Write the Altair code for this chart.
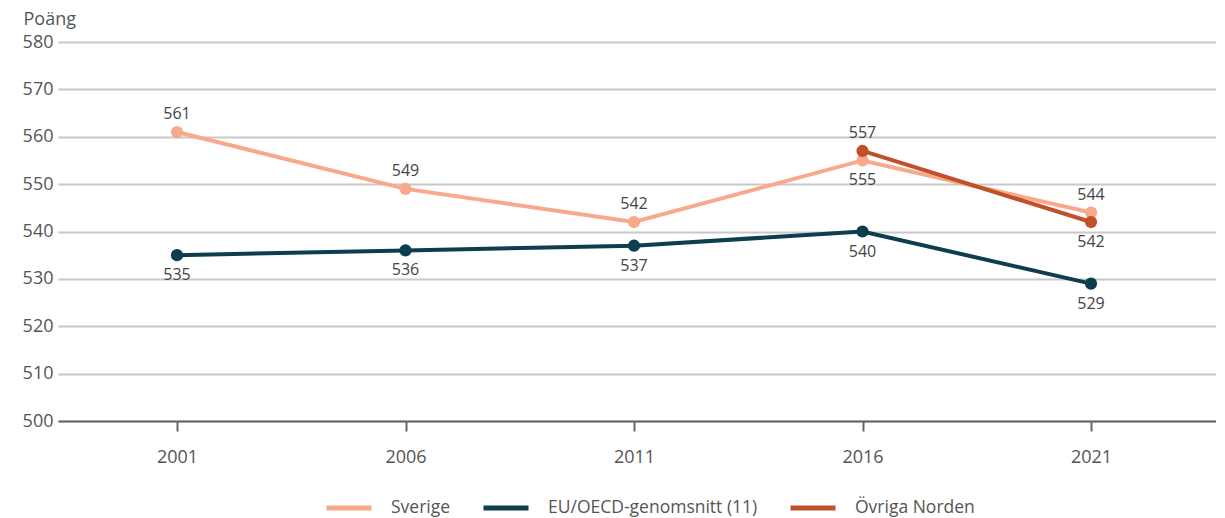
import altair as alt
import pandas as pd

years = [2001, 2006, 2011, 2016, 2021]
sverige = [561, 549, 542, 555, 544]
eu_oecd = [535, 536, 537, 540, 529]
norden_years = [2016, 2021]
norden = [557, 542]
series_names = ["Sverige", "EU/OECD-genomsnitt (11)", "Övriga Norden"]
series_colors = ["#F9A98B", "#0E3D4E", "#C0502A"]
y_ticks = [500, 510, 520, 530, 540, 550, 560, 570, 580]

rows = []
for y, v in zip(years, sverige):
    rows.append({"year": y, "value": v, "series": series_names[0], "o": 0})
for y, v in zip(years, eu_oecd):
    rows.append({"year": y, "value": v, "series": series_names[1], "o": 1})
for y, v in zip(norden_years, norden):
    rows.append({"year": y, "value": v, "series": series_names[2], "o": 2})
df = pd.DataFrame(rows)

FONT = "Open Sans"

x = alt.X("year:Q",
          scale=alt.Scale(domain=[1998.396, 2023.735], nice=False, zero=False),
          axis=alt.Axis(values=years, format="d", title=None, grid=False,
                        domain=True, domainColor="#666666", domainWidth=2,
                        ticks=True, tickColor="#666666", tickWidth=2, tickSize=10,
                        labelPadding=17, labelFontSize=18, labelColor="#555555",
                        labelFont=FONT))
y = alt.Y("value:Q",
          scale=alt.Scale(domain=[500, 580], nice=False, zero=False),
          axis=alt.Axis(values=y_ticks, title="Poäng", titleAngle=0,
                        titleX=-35, titleY=-18, titleAlign="left",
                        titleBaseline="alphabetic", titleFontWeight="normal",
                        titleFontSize=18, titleColor="#555555", titleFont=FONT,
                        grid=True, gridColor="#c8c8c8", gridWidth=2,
                        domain=False, ticks=False, labelPadding=5,
                        labelFontSize=18, labelColor="#555555", labelFont=FONT))
color = alt.Color("series:N",
                  scale=alt.Scale(domain=series_names, range=series_colors),
                  legend=alt.Legend(title=None, orient="none", direction="horizontal",
                                    legendX=266, legendY=441,
                                    symbolType="stroke", symbolSize=2025,
                                    symbolStrokeWidth=5, labelOffset=17,
                                    columnPadding=22, labelFontSize=17.5,
                                    labelLimit=0,
                                    labelColor="#555555", labelFont=FONT))

base = alt.Chart(df)
lines = base.mark_line(strokeWidth=4).encode(x=x, y=y, color=color, order="o:Q")
points = base.mark_circle(size=150, opacity=1).encode(
    x=x, y=y,
    color=alt.Color("series:N", scale=alt.Scale(domain=series_names, range=series_colors), legend=None))

above_filter = "(datum.series == 'Sverige' && datum.year != 2016) || (datum.series == 'Övriga Norden' && datum.year == 2016)"
labels_above = base.transform_filter(above_filter).mark_text(
    dy=-18, fontSize=16, color="#444444", font=FONT
).encode(x=x, y=y, text="value:Q")
labels_below = base.transform_filter("!(" + above_filter + ")").mark_text(
    dy=20, fontSize=16, color="#444444", font=FONT
).encode(x=x, y=y, text="value:Q")

chart = alt.layer(lines, points, labels_above, labels_below).properties(
    width=1158, height=379,
    padding={"left": 14, "top": 2, "right": 0, "bottom": 0}
).configure_view(stroke=None)

chart.save("out.html", embed_options={"renderer": "svg", "actions": False})
